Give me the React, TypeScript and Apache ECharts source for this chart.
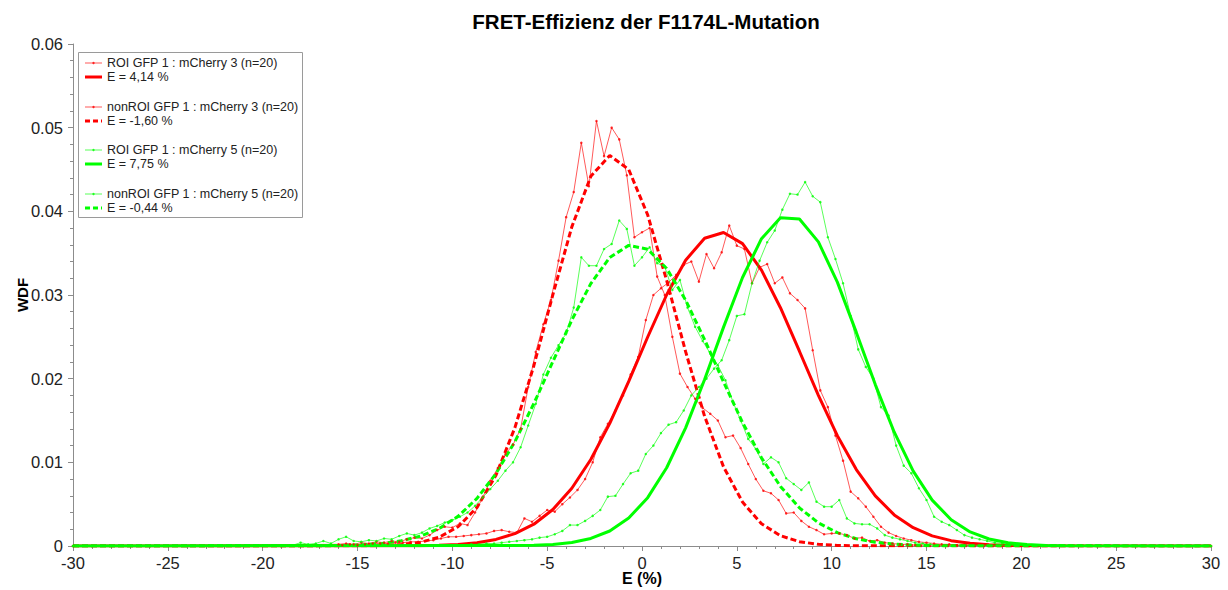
import { useEffect, useRef } from "react";
import * as echarts from "echarts";

// ---------- data ----------
const X_MIN = -30;
const X_MAX = 30;
const X_INTERVAL = 5;
const Y_MIN = 0;
const Y_MAX = 0.06;
const Y_INTERVAL = 0.01;

const TITLE = "FRET-Effizienz der F1174L-Mutation";
const X_NAME = "E (%)";
const Y_NAME = "WDF";

const LEGEND_LABELS = [
  "ROI GFP 1 : mCherry 3 (n=20)",
  "E = 4,14 %",
  "nonROI GFP 1 : mCherry 3 (n=20)",
  "E = -1,60 %",
  "ROI GFP 1 : mCherry 5 (n=20)",
  "E = 7,75 %",
  "nonROI GFP 1 : mCherry 5 (n=20)",
  "E = -0,44 %",
];

const HIST_STEP = 0.4;
const FIT_STEP = 1;

// histogram: ROI GFP1:mCherry3 (red), first bin centre and values
const RED_ROI_START = -15.8;
const RED_ROI = [
  0.0001, 0.0002, 0.0001, 0.0002, 0.0003, 0.0003, 0.0003, 0.0004, 0.0004, 0.0005,
  0.0005, 0.0006, 0.0007, 0.0009, 0.0011, 0.0011, 0.0012, 0.0013, 0.0014, 0.0015,
  0.0018, 0.0019, 0.0017, 0.0016, 0.0033, 0.0029, 0.0036, 0.0043, 0.0041, 0.005,
  0.0058, 0.0067, 0.008, 0.01, 0.013, 0.0146, 0.0162, 0.018, 0.0205, 0.0226,
  0.027, 0.03, 0.0308, 0.0315, 0.0324, 0.0336, 0.034, 0.0316, 0.0349, 0.0332,
  0.0351, 0.0383, 0.0359, 0.0355, 0.0314, 0.0333, 0.0337, 0.0314, 0.0321, 0.0302,
  0.0294, 0.0284, 0.0234, 0.0186, 0.0166, 0.0132, 0.0102, 0.0065, 0.0057, 0.0047,
  0.0035, 0.0023, 0.0016, 0.0012, 0.0009, 0.0007, 0.0005, 0.0004, 0.0003, 0.0002,
  0.0002, 0.0001,
];

// histogram: nonROI GFP1:mCherry3 (red)
const RED_NON_START = -16.0;
const RED_NON = [
  0.0002, 0.0003, 0.0002, 0.0004, 0.0003, 0.0005, 0.0004, 0.0006, 0.0005, 0.0008,
  0.001, 0.0009, 0.0013, 0.0019, 0.0023, 0.0022, 0.0027, 0.0025, 0.004, 0.0058,
  0.0078, 0.0093, 0.011, 0.0121, 0.014, 0.019, 0.0232, 0.0265, 0.0294, 0.0341,
  0.0393, 0.0423, 0.0482, 0.043, 0.0508, 0.0466, 0.05, 0.0486, 0.0443, 0.0369,
  0.0375, 0.038, 0.0322, 0.03, 0.025, 0.0206, 0.019, 0.0176, 0.0165, 0.0158,
  0.015, 0.013, 0.0132, 0.0117, 0.0098, 0.008, 0.0066, 0.0063, 0.0055, 0.0039,
  0.004, 0.003, 0.0023, 0.0019, 0.0014, 0.0015, 0.0015, 0.0013, 0.0009, 0.001,
  0.0006, 0.0007, 0.0004, 0.0003, 0.0002, 0.0002, 0.0001,
];

// histogram: ROI GFP1:mCherry5 (green)
const GREEN_ROI_START = -9.8;
const GREEN_ROI = [
  0.0001, 0.0001, 0.0002, 0.0002, 0.0003, 0.0003, 0.0004, 0.0005, 0.0006, 0.0007,
  0.0008, 0.001, 0.0011, 0.0014, 0.0018, 0.0025, 0.0025, 0.003, 0.0036, 0.0043,
  0.0059, 0.006, 0.0074, 0.0087, 0.009, 0.011, 0.012, 0.0135, 0.0145, 0.0148,
  0.0162, 0.018, 0.019, 0.02, 0.0212, 0.0222, 0.0246, 0.0275, 0.0277, 0.0314,
  0.0341, 0.0363, 0.0377, 0.0402, 0.0421, 0.042, 0.0435, 0.0418, 0.0411, 0.0369,
  0.0343, 0.0314, 0.0275, 0.0235, 0.0214, 0.02, 0.0166, 0.0156, 0.012, 0.0096,
  0.0087, 0.0069, 0.0055, 0.0035, 0.0029, 0.0025, 0.0019, 0.0013, 0.001, 0.0008,
  0.0006, 0.0004, 0.0003, 0.0002, 0.0001,
];

// histogram: nonROI GFP1:mCherry5 (green)
const GREEN_NON_START = -18.4;
const GREEN_NON = [
  0.0001, 0.0004, 0.0002, 0.0003, 0.0006, 0.0003, 0.0008, 0.0011, 0.0006, 0.0005,
  0.0007, 0.0006, 0.0009, 0.0008, 0.0012, 0.0015, 0.0013, 0.0016, 0.0021, 0.0024,
  0.0028, 0.0031, 0.0035, 0.004, 0.0048, 0.0058, 0.0068, 0.0078, 0.009, 0.01,
  0.0118, 0.0144, 0.017, 0.0205, 0.0225, 0.024, 0.0254, 0.0285, 0.0345, 0.0335,
  0.0335, 0.0355, 0.0361, 0.0389, 0.0379, 0.0335, 0.0345, 0.0357, 0.0338, 0.0334,
  0.0306, 0.0318, 0.0285, 0.0262, 0.0245, 0.023, 0.0216, 0.0198, 0.0172, 0.015,
  0.0128, 0.0116, 0.0098, 0.0106, 0.01, 0.0081, 0.0074, 0.0067, 0.0076, 0.0053,
  0.0047, 0.0047, 0.0055, 0.0033, 0.0027, 0.0026, 0.0026, 0.0021, 0.0013, 0.001,
  0.0008, 0.0006, 0.0004, 0.0003, 0.0002, 0.0001,
];

// fitted curves (read at 1-unit spacing)
const RED_ROI_FIT_START = -12.7;
const RED_ROI_FIT = [
  0.0000152, 0.0000374, 0.000087, 0.000191, 0.000399, 0.000788, 0.001473, 0.002605,
  0.004357, 0.006897, 0.010335, 0.014655, 0.019669, 0.024979, 0.03003, 0.03416,
  0.03678, 0.03747, 0.03614, 0.03298, 0.02848, 0.02328, 0.01801, 0.01319, 0.009135,
  0.005989, 0.003716, 0.002183, 0.001213, 0.000639, 0.000318, 0.00015, 0.0000668,
  0.0000282,
];
const RED_NON_FIT_START = -14.7;
const RED_NON_FIT = [
  0.0000177, 0.0000562, 0.000163, 0.000432, 0.001042, 0.002297, 0.004614, 0.008461,
  0.01415, 0.02158, 0.03004, 0.03814, 0.04418, 0.04668, 0.045, 0.03957, 0.03174,
  0.02323, 0.01551, 0.009448, 0.005249, 0.00266, 0.00123, 0.000519, 0.000199,
  0.00007, 0.0000224,
];
const GREEN_ROI_FIT_START = -5.7;
const GREEN_ROI_FIT = [
  0.0000752, 0.000184, 0.000421, 0.000901, 0.001793, 0.003335, 0.005779, 0.009354,
  0.01412, 0.0199, 0.02616, 0.03209, 0.03673, 0.03922, 0.03909, 0.03635, 0.03154,
  0.02553, 0.01929, 0.0136, 0.008943, 0.005487, 0.003143, 0.001679, 0.000837,
  0.000389, 0.000169, 0.0000685, 0.0000259,
];
const GREEN_NON_FIT_START = -16.7;
const GREEN_NON_FIT = [
  0.0000283, 0.0000663, 0.000148, 0.00031, 0.000618, 0.001167, 0.002089, 0.003542,
  0.005688, 0.008654, 0.01248, 0.01704, 0.02204, 0.02701, 0.03136, 0.03449, 0.03593,
  0.03547, 0.03317, 0.02939, 0.02466, 0.01961, 0.01477, 0.01054, 0.007124, 0.004561,
  0.002768, 0.001591, 0.000867, 0.000447, 0.000219, 0.000101, 0.0000443,
];

// ---------- helpers ----------
const RED = "#ff0000";
const GREEN = "#00ff00";
const FONT = '"Liberation Sans", Arial, sans-serif';

function toPoints(start: number, step: number, vals: number[]) {
  const pts: number[][] = [[X_MIN, 0]];
  vals.forEach((v, i) => pts.push([Math.round((start + step * i) * 100) / 100, v]));
  pts.push([X_MAX, 0]);
  return pts;
}

function histSeries(name: string, color: string, start: number, vals: number[]) {
  return {
    name,
    type: "line",
    data: toPoints(start, HIST_STEP, vals),
    showSymbol: true,
    symbol: "circle",
    symbolSize: 2.5,
    itemStyle: { color, opacity: 0.8 },
    lineStyle: { color, width: 1, opacity: 0.65 },
    emphasis: { disabled: true },
    silent: true,
  };
}

function fitSeries(name: string, color: string, start: number, vals: number[], dashed: boolean) {
  return {
    name,
    type: "line",
    data: toPoints(start, FIT_STEP, vals),
    showSymbol: false,
    symbol: "none",
    lineStyle: { color, width: 3, type: dashed ? [6, 3] : "solid" },
    emphasis: { disabled: true },
    silent: true,
  };
}

function legendGraphics() {
  const els: any[] = [];
  els.push({
    type: "rect",
    shape: { x: 78.5, y: 52.5, width: 224, height: 165 },
    style: { fill: "#fff", stroke: "#9a9a9a", lineWidth: 1 },
    z: 100,
  });
  const rows = [63, 77, 107, 121, 150, 164, 194, 208];
  const colors = [RED, RED, RED, RED, GREEN, GREEN, GREEN, GREEN];
  rows.forEach((y, i) => {
    const c = colors[i];
    const kind = i % 2 === 0 ? "thin" : i % 4 === 1 ? "solid" : "dash";
    if (kind === "thin") {
      els.push({
        type: "line",
        shape: { x1: 85, y1: y, x2: 102, y2: y },
        style: { stroke: c, lineWidth: 1, opacity: 0.65 },
        z: 101,
      });
      els.push({
        type: "circle",
        shape: { cx: 93.5, cy: y, r: 1.2 },
        style: { fill: c, opacity: 0.8 },
        z: 101,
      });
    } else {
      els.push({
        type: "line",
        shape: { x1: 85, y1: y, x2: 102, y2: y },
        style: { stroke: c, lineWidth: 3, lineDash: kind === "dash" ? [5, 3] : null },
        z: 101,
      });
    }
    els.push({
      type: "text",
      x: 107,
      y,
      style: {
        text: LEGEND_LABELS[i],
        fontFamily: FONT,
        fontSize: 12.5,
        fill: "#222",
        align: "left",
        verticalAlign: "middle",
      },
      z: 101,
    });
  });
  return els;
}

export default function App() {
  const ref = useRef<HTMLDivElement>(null);

  useEffect(() => {
    if (!ref.current) return;
    const chart = echarts.init(ref.current, null, { renderer: "svg" });
    const axisColor = "#8c8c8c";
    chart.setOption({
      animation: false,
      backgroundColor: "#fff",
      textStyle: { fontFamily: FONT },
      grid: { left: 73, right: 17, top: 44, bottom: 44, containLabel: false, outerBoundsMode: "none" },
      xAxis: {
        type: "value",
        min: X_MIN,
        max: X_MAX,
        interval: X_INTERVAL,
        name: X_NAME,
        nameLocation: "middle",
        nameGap: 24,
        nameMoveOverlap: false,
        nameTextStyle: {
          fontFamily: FONT,
          fontSize: 16,
          lineHeight: 16,
          fontWeight: "bold",
          color: "#000",
        },
        axisLine: { onZero: false, lineStyle: { color: axisColor, width: 1 } },
        axisTick: { show: true, length: 5, lineStyle: { color: axisColor } },
        minorTick: { show: true, splitNumber: 5, length: 3, lineStyle: { color: axisColor } },
        splitLine: { show: false },
        axisLabel: { fontFamily: FONT, fontSize: 16.5, color: "#222", margin: 8 },
      },
      yAxis: {
        type: "value",
        min: Y_MIN,
        max: Y_MAX,
        interval: Y_INTERVAL,
        name: Y_NAME,
        nameLocation: "middle",
        nameGap: 43,
        nameMoveOverlap: false,
        nameRotate: 90,
        nameTextStyle: { fontFamily: FONT, fontSize: 15, fontWeight: "bold", color: "#000" },
        axisLine: { show: true, onZero: false, lineStyle: { color: axisColor, width: 1 } },
        axisTick: { show: true, length: 5, lineStyle: { color: axisColor } },
        minorTick: { show: true, splitNumber: 5, length: 3, lineStyle: { color: axisColor } },
        splitLine: { show: false },
        axisLabel: { fontFamily: FONT, fontSize: 16.5, color: "#222", margin: 10 },
      },
      graphic: [
        {
          type: "text",
          x: 646,
          y: 21,
          style: {
            text: TITLE,
            fontFamily: FONT,
            fontSize: 20.5,
            fontWeight: "bold",
            fill: "#000",
            align: "center",
            verticalAlign: "middle",
          },
        },
        ...legendGraphics(),
      ],
      series: [
        histSeries(LEGEND_LABELS[0], RED, RED_ROI_START, RED_ROI),
        fitSeries(LEGEND_LABELS[1], RED, RED_ROI_FIT_START, RED_ROI_FIT, false),
        histSeries(LEGEND_LABELS[2], RED, RED_NON_START, RED_NON),
        fitSeries(LEGEND_LABELS[3], RED, RED_NON_FIT_START, RED_NON_FIT, true),
        histSeries(LEGEND_LABELS[4], GREEN, GREEN_ROI_START, GREEN_ROI),
        fitSeries(LEGEND_LABELS[5], GREEN, GREEN_ROI_FIT_START, GREEN_ROI_FIT, false),
        histSeries(LEGEND_LABELS[6], GREEN, GREEN_NON_START, GREEN_NON),
        fitSeries(LEGEND_LABELS[7], GREEN, GREEN_NON_FIT_START, GREEN_NON_FIT, true),
      ],
    });
    return () => chart.dispose();
  }, []);

  return (
    <div
      ref={ref}
      style={{ position: "fixed", left: 0, top: 0, width: 1228, height: 590, background: "#fff" }}
    />
  );
}
